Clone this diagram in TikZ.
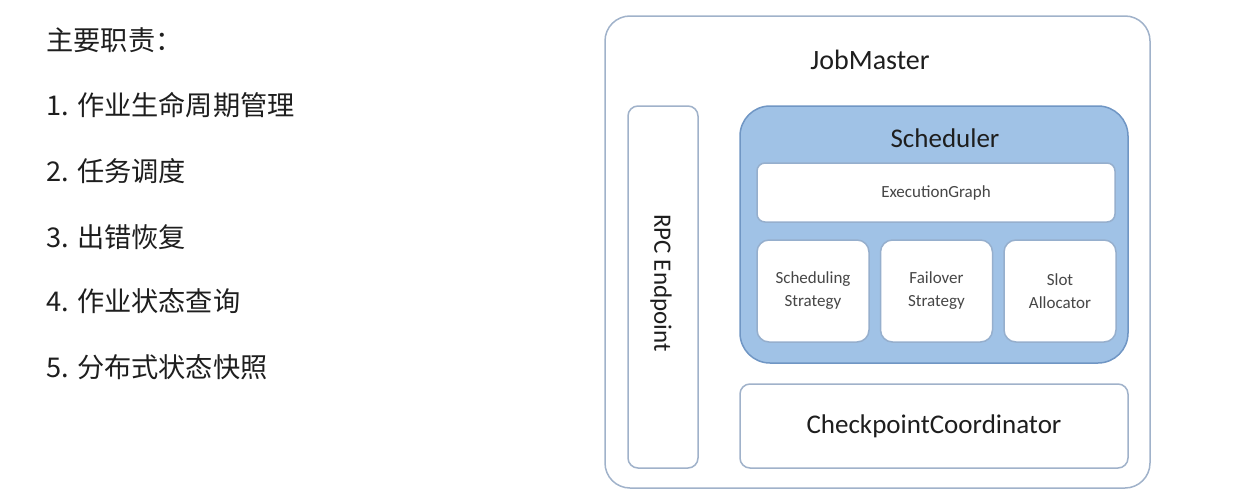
\documentclass[tikz,border=0pt]{standalone}
\usepackage{fontspec}
\setmainfont{Carlito}
\newfontfamily\cjk{Noto Sans CJK SC}
\definecolor{framegray}{RGB}{160,178,202}
\definecolor{schedfill}{RGB}{160,194,230}
\definecolor{scheddraw}{RGB}{112,150,196}
\definecolor{boxdraw}{RGB}{150,175,205}
\definecolor{labelgray}{RGB}{70,70,70}
\definecolor{textdark}{RGB}{30,30,30}
\usepackage{tikz}
\usetikzlibrary{positioning}

\begin{document}
\begin{tikzpicture}[
    x=0.5pt, y=-0.5pt,
    frame/.style={draw=framegray, line width=0.75pt, fill=white, inner sep=0pt},
    part/.style={draw=boxdraw, line width=0.75pt, fill=white, rounded corners=4pt,
      inner sep=0pt, align=center, text=labelgray, font=\fontsize{8.5}{11.5}\selectfont},
    bigtext/.style={text=textdark, font=\fontsize{13.5}{16}\selectfont},
    duty/.style={anchor=west, inner sep=0pt, text=textdark, font=\cjk\fontsize{13.6}{16}\selectfont},
    node distance=5pt,
  ]
    % left: list of duties
    \node[duty] (d0) at (46,40) {主要职责：};
    \node[duty] (d1) at (46,105) {1. 作业生命周期管理};
    \node[duty] (d2) at (46,171) {2. 任务调度};
    \node[duty] (d3) at (46,237) {3. 出错恢复};
    \node[duty] (d4) at (46,301) {4. 作业状态查询};
    \node[duty] (d5) at (46,367) {5. 分布式状态快照};

    % right: JobMaster
    \node[frame, rounded corners=12.5pt, minimum width=272.5pt, minimum height=236pt] (jm) at (877.5,252) {};
    \node[bigtext, font=\fontsize{14}{16}\selectfont] (jmlabel) at (870,60) {JobMaster};

    \node[frame, rounded corners=5pt, minimum width=35pt, minimum height=181pt] (rpc) at (663,287) {};
    \node[bigtext, rotate=-90, font=\fontsize{12.5}{16}\selectfont] (rpclabel) at (661,283) {RPC Endpoint};

    \node[draw=scheddraw, line width=0.75pt, fill=schedfill, rounded corners=15pt, inner sep=0pt,
      minimum width=194pt, minimum height=128.5pt] (sched) at (934,234.5) {};
    \node[bigtext] (schedlabel) at (945,138) {Scheduler};

    \node[part, minimum width=179pt, minimum height=29.5pt] (eg) at (936,192.5) {ExecutionGraph};
    \node[part, rounded corners=6pt, minimum width=56pt, minimum height=51pt] (ss) at (813,291) {Scheduling\\Strategy};
    \node[part, rounded corners=6pt, minimum width=56pt, minimum height=51pt, right=of ss] (fs) {Failover\\Strategy};
    \node[part, rounded corners=6pt, minimum width=56pt, minimum height=51pt, right=of fs] (sa) {Slot\\Allocator};

    \node[frame, rounded corners=5pt, minimum width=194pt, minimum height=42pt,
      text=textdark, font=\fontsize{13.5}{16}\selectfont] (cc) at (934,426) {CheckpointCoordinator};

    \useasboundingbox (0,0) rectangle (1237,503);
  \end{tikzpicture}
\end{document}
